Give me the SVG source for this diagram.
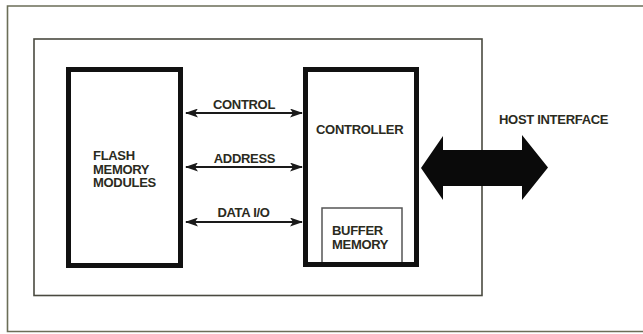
<svg xmlns="http://www.w3.org/2000/svg" width="643" height="334" viewBox="0 0 643 334">
<style>
text{font-family:"Liberation Sans",Arial,sans-serif;font-weight:bold;font-size:13px;fill:#2b2b1e;letter-spacing:-0.3px}
.frame{fill:none;stroke:#6b6e58;stroke-width:1.6}
.inner{fill:none;stroke:#4a4a40;stroke-width:1.6}
.block{fill:#fff;stroke:#111;stroke-width:5}
.buf{fill:#fff;stroke:#555;stroke-width:1.5}
.bus{stroke:#1a1a1a;stroke-width:2;fill:none;marker-start:url(#ah);marker-end:url(#ah)}
</style>
<defs>
<marker id="ah" viewBox="0 0 13 9" refX="12" refY="4.5" markerWidth="13" markerHeight="9" markerUnits="userSpaceOnUse" orient="auto-start-reverse">
<path d="M0,0 L13,4.5 L0,9 L3,4.5 Z" fill="#1a1a1a"/>
</marker>
</defs>
<rect width="643" height="334" fill="#fff"/>
<g id="outer-frame"><path class="frame" d="M645,6 H7.5 V331.5 H645"/></g>
<g id="system"><rect class="inner" x="34" y="39" width="448" height="256.5"/></g>
<g id="flash"><rect class="block" x="68.5" y="69.5" width="112" height="196"/>
<text x="93" y="160">FLASH</text><text x="93" y="173.5">MEMORY</text><text x="93" y="187">MODULES</text></g>
<g id="controller"><rect class="block" x="305.5" y="69.5" width="111" height="195"/>
<text x="316" y="134">CONTROLLER</text></g>
<g id="buffer"><path class="buf" d="M322,262 V208 H402 V262"/>
<text x="332" y="235">BUFFER</text><text x="332" y="248.5">MEMORY</text></g>
<g id="connectors">
<line class="bus" x1="186" y1="113" x2="302" y2="113"/>
<line class="bus" x1="186" y1="167" x2="302" y2="167"/>
<line class="bus" x1="186" y1="222" x2="302" y2="222"/>
<polygon points="421,168 443,136 443,150 522,150 522,135 548,167.5 522,200 522,186 443,186 443,200" fill="#0a0a0a"/>
</g>
<g id="labels">
<text x="244" y="109" text-anchor="middle">CONTROL</text>
<text x="244.5" y="163" text-anchor="middle">ADDRESS</text>
<text x="243.5" y="217" text-anchor="middle">DATA I/O</text>
<text x="499" y="124">HOST INTERFACE</text>
</g>
</svg>
